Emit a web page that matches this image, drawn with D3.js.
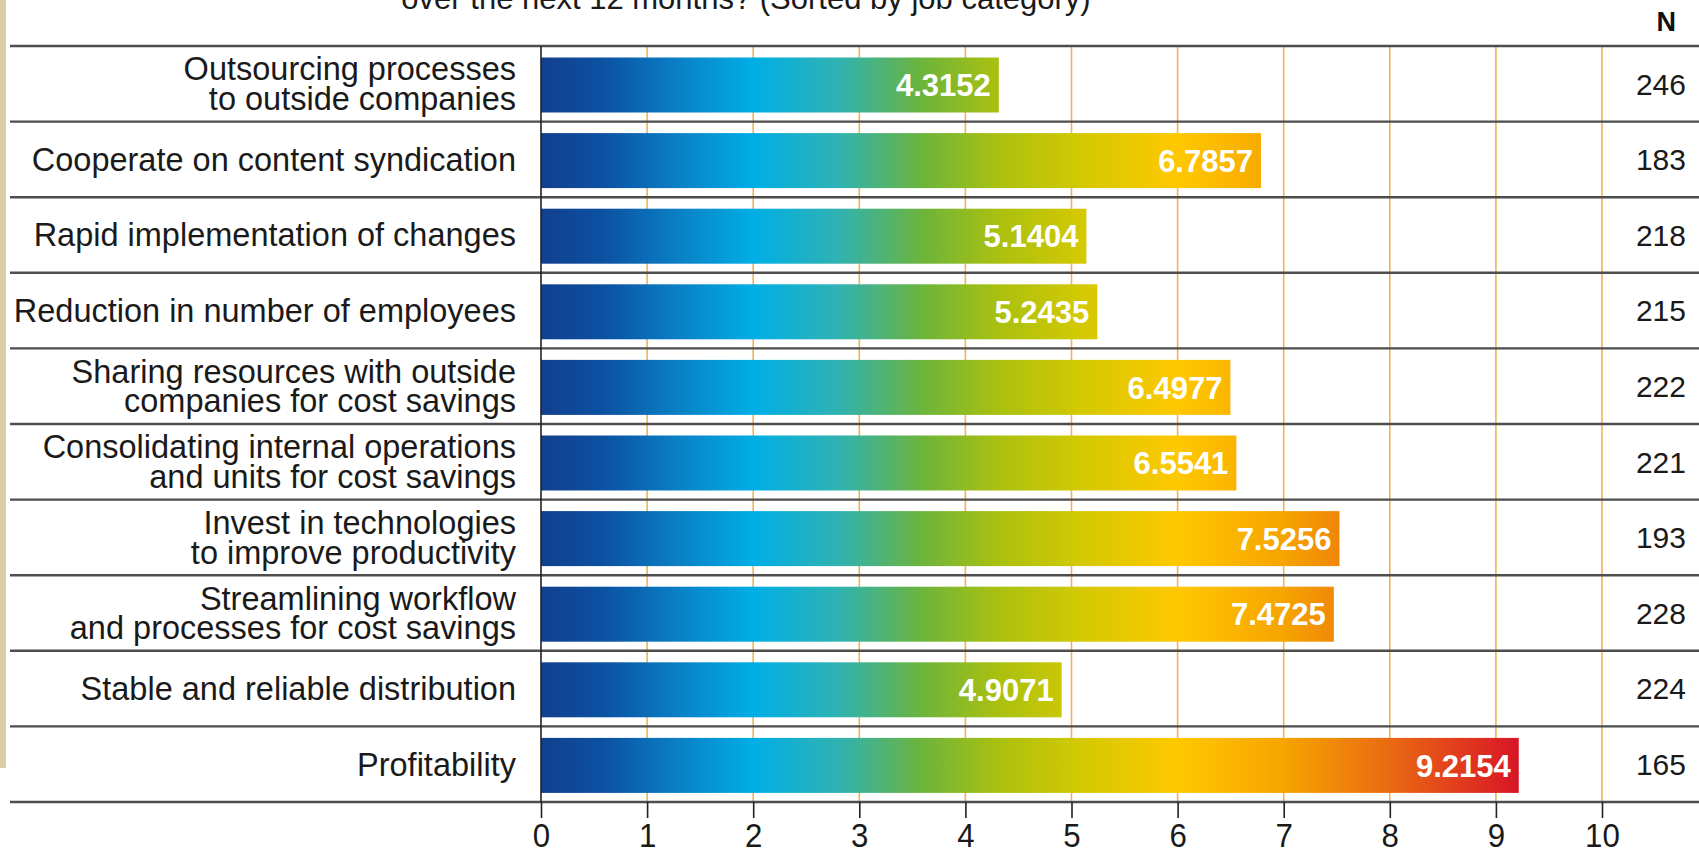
<!DOCTYPE html>
<html>
<head>
<meta charset="utf-8">
<script src="https://cdn.jsdelivr.net/npm/d3@7/dist/d3.min.js"></script>
<style>
  html, body { margin: 0; padding: 0; background: #fff; }
  svg { display: block; }
  text { font-family: "Liberation Sans", Arial, Helvetica, sans-serif; }
</style>
</head>
<body>
<svg id="chart" width="1699" height="855"></svg>
<script>
// Survey results: priorities over the next 12 months
const categories = [
  ["Outsourcing processes", "to outside companies"],
  ["Cooperate on content syndication"],
  ["Rapid implementation of changes"],
  ["Reduction in number of employees"],
  ["Sharing resources with outside", "companies for cost savings"],
  ["Consolidating internal operations", "and units for cost savings"],
  ["Invest in technologies", "to improve productivity"],
  ["Streamlining workflow", "and processes for cost savings"],
  ["Stable and reliable distribution"],
  ["Profitability"]
];
const scores = [4.3152, 6.7857, 5.1404, 5.2435, 6.4977, 6.5541, 7.5256, 7.4725, 4.9071, 9.2154];
const respondents = [246, 183, 218, 215, 222, 221, 193, 228, 224, 165];
const tickValues = [0, 1, 2, 3, 4, 5, 6, 7, 8, 9, 10];
const subtitle = "over the next 12 months? (Sorted by job category)";

const svg = d3.select("#chart");
const W = 1699, H = 855;
const plotTop = 46, plotBottom = 802;
const x0 = 541, x10 = 1602;

const x = d3.scaleLinear().domain([0, 10]).range([x0, x10]);
const y = d3.scaleBand().domain(d3.range(categories.length)).range([plotTop, plotBottom]).padding(0);
const bw = y.bandwidth();

// textured page edge on the left
svg.append("rect").attr("x", 0).attr("y", 0).attr("width", 6).attr("height", 768).attr("fill", "#dacda6");

// colour ramp tied to the value axis, shared by all bars
const ramp = [
  [0.0, "#123f8e"], [0.6, "#0b52a2"], [1.3, "#0a80c6"], [2.0, "#00aee6"],
  [2.8, "#2fb2b2"], [3.6, "#6db43a"], [4.3, "#a9c010"], [5.1, "#d4c902"],
  [6.0, "#ffc800"], [7.0, "#f6a400"], [8.0, "#ea6a12"], [9.3, "#d70f28"]
];
const defs = svg.append("defs");
const grad = defs.append("linearGradient").attr("id", "barRamp")
  .attr("gradientUnits", "userSpaceOnUse")
  .attr("x1", x(0)).attr("x2", x(9.3)).attr("y1", 0).attr("y2", 0);
grad.selectAll("stop").data(ramp).join("stop")
  .attr("offset", d => d[0] / 9.3).attr("stop-color", d => d[1]);

// subtitle line (first line falls above the page)
svg.append("text").attr("x", 746).attr("y", 9).attr("text-anchor", "middle")
  .attr("font-size", 31).attr("fill", "#1a1a1a").text(subtitle);

// N column header
svg.append("text").attr("x", 1676).attr("y", 31).attr("text-anchor", "end")
  .attr("font-size", 27).attr("font-weight", "bold").attr("fill", "#111").text("N");

// vertical grid lines
svg.append("g").selectAll("line").data(tickValues.filter(d => d > 0)).join("line")
  .attr("x1", d => x(d)).attr("x2", d => x(d))
  .attr("y1", plotTop).attr("y2", plotBottom)
  .attr("stroke", "#f0b35a").attr("stroke-width", 1.6);

// bars
const barTop = 11.5, barH = 55;
svg.append("g").selectAll("rect").data(scores).join("rect")
  .attr("x", x(0)).attr("y", (d, i) => y(i) + barTop)
  .attr("width", d => x(d) - x(0)).attr("height", barH)
  .attr("fill", "url(#barRamp)");

// value labels inside bar ends
svg.append("g").selectAll("text").data(scores).join("text")
  .attr("x", d => x(d) - 8).attr("y", (d, i) => y(i) + barTop + barH / 2)
  .attr("dy", "0.36em").attr("text-anchor", "end")
  .attr("font-size", 31).attr("font-weight", "bold").attr("fill", "#fff")
  .text(d => d.toFixed(4));

// row separators
svg.append("g").selectAll("line").data(d3.range(categories.length + 1)).join("line")
  .attr("x1", 10).attr("x2", W)
  .attr("y1", i => i < categories.length ? y(i) : plotBottom)
  .attr("y2", i => i < categories.length ? y(i) : plotBottom)
  .attr("stroke", "#4d4d4d").attr("stroke-width", 2.4);

// category labels
const lab = svg.append("g").selectAll("text").data(categories).join("text")
  .attr("text-anchor", "end").attr("font-size", 32.5).attr("fill", "#1a1a1a");
lab.each(function (lines, i) {
  const t = d3.select(this);
  const cy = y(i) + bw / 2;
  const lh = 29.5;
  lines.forEach((ln, k) => {
    t.append("tspan").attr("x", 516)
      .attr("y", cy + (k - (lines.length - 1) / 2) * lh)
      .attr("dy", "0.35em").text(ln);
  });
});

// respondent counts
svg.append("g").selectAll("text").data(respondents).join("text")
  .attr("x", 1686).attr("y", (d, i) => y(i) + bw / 2).attr("dy", "0.36em")
  .attr("text-anchor", "end").attr("font-size", 30).attr("fill", "#1a1a1a")
  .text(d => d);

// value axis
svg.append("line").attr("x1", x(0)).attr("x2", x(0)).attr("y1", plotTop).attr("y2", plotBottom)
  .attr("stroke", "#222").attr("stroke-width", 1.6);
const axis = svg.append("g").attr("transform", `translate(0,${plotBottom})`)
  .call(d3.axisBottom(x).tickValues(tickValues).tickSize(16).tickPadding(8).tickFormat(d3.format("d")));
axis.select(".domain").remove();
axis.selectAll(".tick line").attr("stroke", "#222").attr("stroke-width", 1.6);
axis.selectAll(".tick text")
  .attr("font-family", "\"Liberation Sans\", Arial, sans-serif")
  .attr("font-size", 34).attr("fill", "#1a1a1a")
  .attr("y", 45.5).attr("dy", 0)
  .attr("transform", "scale(0.92,1)");
</script>
</body>
</html>
